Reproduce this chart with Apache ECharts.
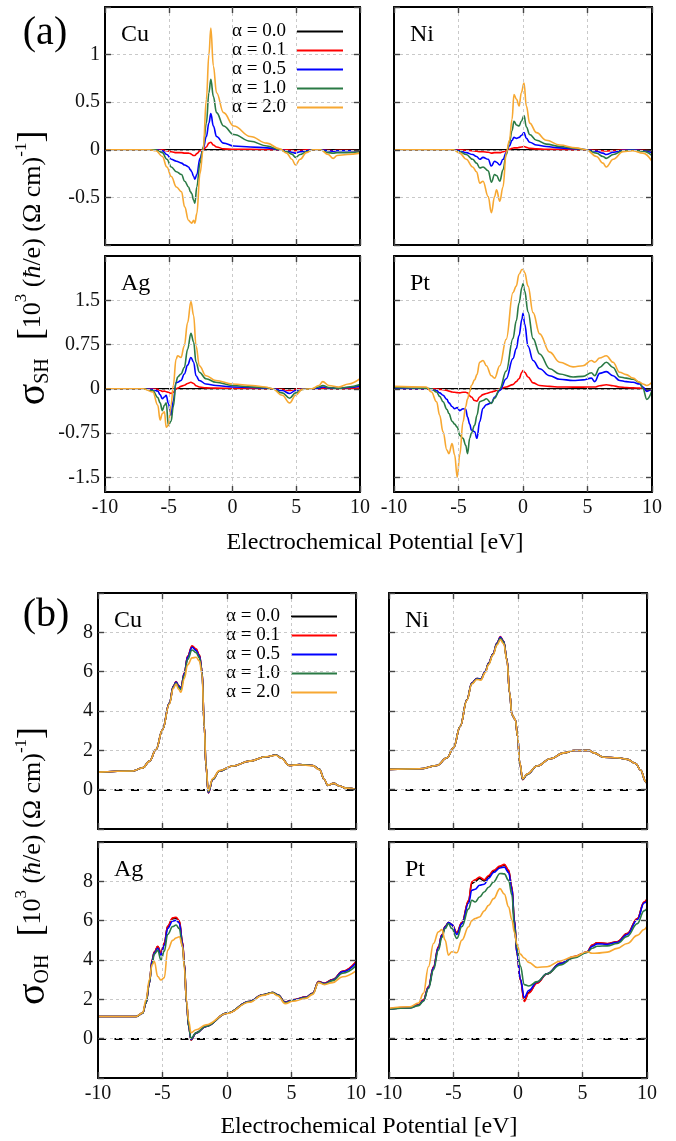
<!DOCTYPE html>
<html>
<head>
<meta charset="utf-8">
<script src="https://cdn.jsdelivr.net/npm/echarts@6/dist/echarts.min.js"></script>
<style>
  html, body { margin: 0; padding: 0; background: #fff; }
  #chart { width: 676px; height: 1141px; }
</style>
</head>
<body>
<div id="chart"></div>
<script>
// ---------- legend / series identity ----------
const alphaLabels = ['α = 0.0', 'α = 0.1', 'α = 0.5', 'α = 1.0', 'α = 2.0'];
const alphaColors = ['#000000', '#ff0000', '#0000ff', '#2a7a45', '#f7a832'];

// ---------- tick labels ----------
const energyTicks = [-10, -5, 0, 5, 10];
const shTopTicks = [-0.5, 0, 0.5, 1];
const shBottomTicks = [-1.5, -0.75, 0, 0.75, 1.5];
const ohTicks = [0, 2, 4, 6, 8];

// ---------- (a) spin Hall conductivity, Cu ----------
const cuSH_E = [-10, -6.5, -6.0, -5.5, -5.15, -4.8, -4.4, -4.0, -3.75, -3.45, -3.3, -3.2, -3.05, -2.95, -2.8, -2.55, -2.3, -2.05, -1.85, -1.7, -1.5, -1.25, -0.7, 0.1, 1.4, 2.7, 3.7, 4.25, 4.65, 4.95, 5.3, 5.8, 6.3, 6.9, 7.5, 7.9, 8.2, 9.0, 10];
const cuSH_a00 = [0, 0, 0, 0, 0, 0, 0, 0, 0, 0, 0, 0, 0, 0, 0, 0, 0, 0, 0, 0, 0, 0, 0, 0, 0, 0, 0, 0, 0, 0, 0, 0, 0, 0, 0, 0, 0, 0, 0];
const cuSH_a01 = [0, 0, 0, 0, -0.01, -0.02, -0.03, -0.03, -0.035, -0.035, -0.04, -0.05, -0.06, -0.06, -0.04, -0.01, 0, 0.03, 0.07, 0.08, 0.05, 0.03, 0.01, 0.005, 0.005, 0, 0, 0, -0.005, -0.01, -0.005, 0, 0, 0, -0.005, -0.01, -0.005, -0.005, -0.01];
const cuSH_a05 = [0, 0, 0, -0.01, -0.05, -0.1, -0.12, -0.14, -0.16, -0.18, -0.21, -0.23, -0.28, -0.31, -0.26, -0.09, 0.01, 0.14, 0.28, 0.38, 0.25, 0.14, 0.07, 0.04, 0.03, 0.02, 0, -0.01, -0.025, -0.035, -0.02, -0.01, 0, 0, -0.01, -0.015, -0.01, -0.01, -0.01];
const cuSH_a10 = [0, 0, 0, -0.03, -0.1, -0.18, -0.23, -0.26, -0.33, -0.39, -0.44, -0.46, -0.53, -0.56, -0.39, -0.14, 0.03, 0.28, 0.6, 0.74, 0.56, 0.39, 0.25, 0.16, 0.09, 0.04, 0, -0.02, -0.045, -0.08, -0.05, -0.02, 0, 0, -0.03, -0.035, -0.03, -0.03, -0.02];
const cuSH_a20 = [0, 0, -0.01, -0.07, -0.18, -0.28, -0.39, -0.44, -0.6, -0.74, -0.76, -0.77, -0.74, -0.77, -0.67, -0.25, 0, 0.53, 1.0, 1.28, 0.88, 0.6, 0.39, 0.25, 0.14, 0.07, 0.01, -0.035, -0.1, -0.16, -0.1, -0.03, 0, 0, -0.05, -0.09, -0.06, -0.05, -0.035];

// ---------- (a) Ni ----------
const niSH_E = [-10, -6.0, -5.4, -4.9, -4.4, -3.9, -3.6, -3.35, -3.1, -2.7, -2.45, -2.2, -2.05, -1.8, -1.55, -1.3, -1.05, -0.85, -0.7, -0.5, -0.3, -0.13, 0.08, 0.26, 0.52, 1.05, 1.8, 2.85, 4.1, 4.9, 5.7, 6.2, 6.45, 7.0, 7.75, 8.5, 9.3, 10];
const niSH_a00 = [0, 0, 0, 0, 0, 0, 0, 0, 0, 0, 0, 0, 0, 0, 0, 0, 0, 0, 0, 0, 0, 0, 0, 0, 0, 0, 0, 0, 0, 0, 0, 0, 0, 0, 0, 0, 0, 0];
const niSH_a01 = [0, 0, 0, 0, -0.005, -0.01, -0.015, -0.02, -0.02, -0.025, -0.035, -0.03, -0.03, -0.03, -0.02, -0.01, 0.005, 0.015, 0.02, 0.02, 0.025, 0.03, 0.035, 0.025, 0.015, 0.01, 0.005, 0.003, 0, 0, -0.005, -0.01, -0.012, -0.008, 0, 0, -0.005, -0.01];
const niSH_a05 = [0, 0, 0, -0.01, -0.03, -0.05, -0.07, -0.1, -0.08, -0.1, -0.17, -0.12, -0.13, -0.16, -0.1, -0.03, 0.04, 0.1, 0.13, 0.12, 0.13, 0.15, 0.18, 0.12, 0.08, 0.05, 0.035, 0.02, 0.01, 0, -0.015, -0.035, -0.05, -0.025, -0.005, 0, -0.01, -0.03];
const niSH_a10 = [0, 0, 0, -0.02, -0.05, -0.1, -0.14, -0.19, -0.18, -0.22, -0.34, -0.26, -0.27, -0.33, -0.21, -0.05, 0.08, 0.2, 0.3, 0.26, 0.25, 0.3, 0.36, 0.24, 0.16, 0.1, 0.06, 0.035, 0.015, 0, -0.035, -0.07, -0.09, -0.05, -0.01, -0.005, -0.015, -0.06];
const niSH_a20 = [0, 0, 0, -0.035, -0.1, -0.18, -0.23, -0.35, -0.33, -0.49, -0.66, -0.49, -0.42, -0.54, -0.39, -0.035, 0.1, 0.32, 0.58, 0.53, 0.46, 0.6, 0.7, 0.46, 0.28, 0.18, 0.1, 0.05, 0.02, 0, -0.07, -0.14, -0.18, -0.1, -0.02, -0.01, -0.035, -0.12];

// ---------- (a) Ag ----------
const agSH_E = [-10, -7.0, -6.25, -5.86, -5.68, -5.5, -5.34, -5.2, -5.03, -4.82, -4.64, -4.43, -4.3, -4.04, -3.78, -3.52, -3.26, -3.05, -2.86, -2.6, -2.08, -1.3, 0, 1.56, 2.6, 3.13, 3.9, 4.48, 4.95, 5.47, 6.25, 6.77, 7.08, 7.55, 8.33, 9.1, 10];
const agSH_a00 = [0, 0, 0, 0, 0, 0, 0, 0, 0, 0, 0, 0, 0, 0, 0, 0, 0, 0, 0, 0, 0, 0, 0, 0, 0, 0, 0, 0, 0, 0, 0, 0, 0, 0, 0, 0, 0];
const agSH_a01 = [0, 0, 0, -0.01, -0.025, -0.045, -0.04, -0.05, -0.06, -0.08, -0.06, 0, 0.01, 0.04, 0.06, 0.09, 0.11, 0.09, 0.05, 0.03, 0.015, 0.01, 0.005, 0.003, 0, 0, -0.01, -0.03, -0.01, 0, 0, 0, 0.01, 0.005, 0, 0.005, 0.01];
const agSH_a05 = [0, 0, -0.01, -0.04, -0.1, -0.17, -0.14, -0.11, -0.25, -0.45, -0.2, 0.1, 0.11, 0.14, 0.25, 0.4, 0.53, 0.45, 0.22, 0.14, 0.08, 0.056, 0.03, 0.02, 0.01, 0, -0.03, -0.08, -0.03, -0.005, 0, 0.01, 0.03, 0.015, 0.005, 0.02, 0.045];
const agSH_a10 = [0, 0, -0.03, -0.15, -0.24, -0.37, -0.28, -0.24, -0.62, -0.55, -0.3, 0.11, 0.2, 0.25, 0.36, 0.67, 0.94, 0.79, 0.45, 0.28, 0.17, 0.11, 0.056, 0.03, 0.017, 0, -0.07, -0.16, -0.07, -0.01, 0, 0.03, 0.056, 0.02, 0.006, 0.03, 0.07];
const agSH_a20 = [0, 0, -0.056, -0.28, -0.53, -0.42, -0.39, -0.65, -0.62, -0.28, 0.06, 0.5, 0.56, 0.53, 0.73, 1.12, 1.48, 1.24, 0.73, 0.39, 0.22, 0.14, 0.08, 0.056, 0.03, 0, -0.11, -0.24, -0.11, -0.01, 0, 0.056, 0.12, 0.056, 0.03, 0.08, 0.17];

// ---------- (a) Pt ----------
const ptSH_E = [-10, -7.5, -7.1, -6.7, -6.46, -6.2, -5.9, -5.74, -5.5, -5.3, -5.1, -4.9, -4.65, -4.44, -4.3, -4.13, -4.0, -3.75, -3.57, -3.36, -3.1, -2.84, -2.45, -2.2, -1.8, -1.3, -0.78, -0.52, -0.31, -0.08, 0.0, 0.13, 0.39, 0.78, 1.29, 2.07, 2.84, 3.88, 4.65, 5.3, 5.56, 5.94, 6.46, 6.98, 7.49, 8.0, 8.53, 9.04, 9.3, 9.6, 10];
const ptSH_a00 = [0, 0, 0, 0, 0, 0, 0, 0, 0, 0, 0, 0, 0, 0, 0, 0, 0, 0, 0, 0, 0, 0, 0, 0, 0, 0, 0, 0, 0, 0, 0, 0, 0, 0, 0, 0, 0, 0, 0, 0, 0, 0, 0, 0, 0, 0, 0, 0, 0, 0, 0];
const ptSH_a01 = [0, 0, 0, -0.005, -0.01, -0.015, -0.03, -0.04, -0.056, -0.06, -0.065, -0.07, -0.06, -0.06, -0.07, -0.12, -0.14, -0.2, -0.21, -0.14, -0.1, -0.08, -0.056, -0.04, 0, 0.03, 0.07, 0.12, 0.17, 0.28, 0.31, 0.28, 0.2, 0.1, 0.056, 0.04, 0.03, 0.028, 0.028, 0.03, 0.03, 0.05, 0.067, 0.05, 0.03, 0.02, 0.015, 0.01, 0, -0.03, -0.01];
const ptSH_a05 = [0, 0, -0.01, -0.03, -0.07, -0.11, -0.18, -0.24, -0.3, -0.34, -0.32, -0.37, -0.34, -0.35, -0.48, -0.6, -0.7, -0.73, -0.84, -0.56, -0.33, -0.27, -0.24, -0.14, -0.03, 0.17, 0.51, 0.68, 0.9, 1.18, 1.28, 1.1, 0.72, 0.48, 0.34, 0.22, 0.16, 0.14, 0.15, 0.18, 0.12, 0.26, 0.29, 0.22, 0.14, 0.12, 0.11, 0.08, 0.03, -0.045, 0];
const ptSH_a10 = [0.02, 0.01, 0, -0.056, -0.13, -0.22, -0.35, -0.42, -0.55, -0.6, -0.65, -0.79, -0.84, -0.96, -1.1, -0.84, -0.75, -0.62, -0.45, -0.22, -0.2, -0.17, -0.25, -0.16, 0, 0.3, 0.85, 1.15, 1.45, 1.72, 1.78, 1.66, 1.3, 0.85, 0.59, 0.34, 0.25, 0.2, 0.21, 0.27, 0.22, 0.36, 0.45, 0.36, 0.2, 0.18, 0.16, 0.11, 0, -0.18, -0.03];
const ptSH_a20 = [0.04, 0.03, -0.056, -0.22, -0.45, -0.73, -1.04, -1.1, -0.93, -1.12, -1.5, -1.12, -0.56, -0.3, -0.17, -0.05, 0.056, 0.15, 0.24, 0.45, 0.48, 0.39, 0.22, 0.18, 0.39, 0.84, 1.63, 1.74, 1.94, 2.02, 2.02, 1.97, 1.74, 1.29, 0.93, 0.62, 0.45, 0.37, 0.39, 0.48, 0.45, 0.52, 0.56, 0.45, 0.28, 0.24, 0.18, 0.11, 0.08, 0.056, 0.11];

// ---------- (b) orbital Hall conductivity, Cu ----------
const cuOH_E = [-10, -7.3, -6.54, -6.0, -5.5, -5.0, -4.47, -4.16, -3.95, -3.75, -3.57, -3.31, -3.05, -2.71, -2.4, -2.14, -1.94, -1.76, -1.63, -1.45, -1.11, -0.59, 0.44, 1.73, 3.02, 3.8, 4.19, 4.83, 5.6, 6.64, 7.16, 7.55, 7.8, 8.27, 8.7, 9.22, 10];
const cuOH_a00 = [0.89, 0.95, 1.11, 1.45, 2.04, 3.05, 4.4, 5.25, 5.49, 5.28, 5.16, 5.92, 6.77, 7.28, 7.12, 6.83, 6.09, 3.22, 1.2, -0.15, 0.52, 0.95, 1.2, 1.45, 1.67, 1.76, 1.62, 1.23, 1.28, 1.23, 1.03, 0.52, 0.22, 0.32, 0.19, 0.08, 0.02];
const cuOH_a01 = [0.89, 0.95, 1.11, 1.45, 2.04, 3.05, 4.4, 5.25, 5.5, 5.29, 5.17, 5.94, 6.79, 7.32, 7.16, 6.86, 6.1, 3.22, 1.2, -0.17, 0.52, 0.95, 1.2, 1.45, 1.67, 1.76, 1.62, 1.23, 1.28, 1.23, 1.03, 0.52, 0.22, 0.32, 0.19, 0.08, 0.02];
const cuOH_a05 = [0.89, 0.95, 1.11, 1.45, 2.04, 3.05, 4.4, 5.24, 5.47, 5.27, 5.15, 5.9, 6.74, 7.24, 7.08, 6.8, 6.07, 3.22, 1.2, -0.15, 0.52, 0.95, 1.2, 1.45, 1.67, 1.76, 1.62, 1.23, 1.28, 1.23, 1.03, 0.52, 0.22, 0.32, 0.19, 0.08, 0.02];
const cuOH_a10 = [0.89, 0.95, 1.11, 1.45, 2.04, 3.05, 4.38, 5.2, 5.42, 5.2, 5.08, 5.82, 6.62, 7.1, 6.97, 6.7, 6.0, 3.2, 1.22, -0.12, 0.53, 0.95, 1.2, 1.45, 1.67, 1.76, 1.62, 1.23, 1.28, 1.23, 1.03, 0.52, 0.22, 0.32, 0.19, 0.08, 0.02];
const cuOH_a20 = [0.89, 0.95, 1.11, 1.45, 2.04, 3.04, 4.35, 5.15, 5.37, 5.1, 4.95, 5.65, 6.35, 6.7, 6.73, 6.55, 5.9, 3.2, 1.25, -0.05, 0.56, 0.97, 1.2, 1.45, 1.67, 1.75, 1.61, 1.23, 1.27, 1.22, 1.02, 0.52, 0.23, 0.32, 0.19, 0.08, 0.02];

// ---------- (b) Ni ----------
const niOH_E = [-10, -7.6, -6.3, -5.5, -5.0, -4.48, -3.96, -3.58, -3.19, -2.88, -2.54, -2.28, -1.94, -1.63, -1.37, -1.11, -0.85, -0.65, -0.47, -0.21, -0.03, 0.13, 0.36, 0.7, 1.48, 2.51, 3.55, 4.33, 5.49, 5.88, 6.66, 7.69, 8.47, 9.12, 9.5, 9.9, 10];
const niOH_a00 = [1.03, 1.06, 1.23, 1.62, 2.13, 3.22, 4.57, 5.42, 5.65, 5.62, 6.01, 6.43, 6.9, 7.44, 7.75, 7.53, 6.6, 4.91, 3.81, 3.56, 2.72, 1.37, 0.52, 0.78, 1.2, 1.57, 1.87, 1.99, 2.0, 1.87, 1.65, 1.62, 1.54, 1.33, 1.0, 0.42, 0.3];
const niOH_a01 = [1.03, 1.06, 1.23, 1.62, 2.13, 3.22, 4.57, 5.42, 5.65, 5.62, 6.01, 6.43, 6.9, 7.45, 7.78, 7.55, 6.6, 4.91, 3.81, 3.56, 2.72, 1.37, 0.51, 0.78, 1.2, 1.57, 1.87, 1.99, 2.0, 1.87, 1.65, 1.62, 1.54, 1.33, 1.0, 0.42, 0.3];
const niOH_a05 = [1.03, 1.06, 1.23, 1.62, 2.13, 3.22, 4.57, 5.42, 5.65, 5.62, 6.01, 6.43, 6.9, 7.44, 7.76, 7.53, 6.6, 4.91, 3.81, 3.56, 2.72, 1.37, 0.52, 0.78, 1.2, 1.57, 1.87, 1.99, 2.0, 1.87, 1.65, 1.62, 1.54, 1.33, 1.0, 0.42, 0.3];
const niOH_a10 = [1.03, 1.06, 1.23, 1.62, 2.13, 3.22, 4.56, 5.4, 5.63, 5.6, 5.98, 6.4, 6.87, 7.4, 7.7, 7.5, 6.58, 4.91, 3.81, 3.56, 2.72, 1.38, 0.53, 0.78, 1.2, 1.57, 1.87, 1.99, 2.0, 1.87, 1.65, 1.62, 1.54, 1.33, 1.0, 0.42, 0.3];
const niOH_a20 = [1.03, 1.06, 1.23, 1.62, 2.13, 3.21, 4.54, 5.37, 5.6, 5.57, 5.95, 6.36, 6.85, 7.35, 7.62, 7.42, 6.55, 4.92, 3.82, 3.56, 2.72, 1.4, 0.56, 0.8, 1.2, 1.57, 1.87, 1.99, 2.0, 1.87, 1.65, 1.62, 1.54, 1.33, 1.0, 0.42, 0.3];

// ---------- (b) Ag ----------
const agOH_E = [-10, -7.05, -6.54, -6.28, -6.02, -5.81, -5.63, -5.37, -5.12, -4.86, -4.6, -4.21, -3.95, -3.7, -3.44, -3.31, -3.13, -2.97, -2.79, -2.4, -1.63, 0, 1.73, 2.76, 3.54, 3.93, 4.52, 5.09, 6.12, 6.64, 7.1, 7.55, 8.19, 8.97, 10];
const agOH_a00 = [1.13, 1.13, 1.3, 1.8, 2.82, 4.0, 4.4, 4.68, 4.35, 4.85, 5.7, 6.1, 6.13, 5.97, 4.88, 3.85, 1.8, 0.62, -0.06, 0.29, 0.62, 1.3, 1.89, 2.23, 2.35, 2.23, 1.86, 1.97, 2.11, 2.31, 2.9, 2.82, 3.0, 3.42, 3.88];
const agOH_a01 = [1.13, 1.13, 1.3, 1.8, 2.82, 4.0, 4.4, 4.7, 4.36, 4.86, 5.72, 6.14, 6.17, 6.0, 4.9, 3.85, 1.8, 0.62, -0.07, 0.29, 0.62, 1.3, 1.89, 2.23, 2.35, 2.23, 1.86, 1.97, 2.11, 2.31, 2.9, 2.82, 3.0, 3.43, 3.92];
const agOH_a05 = [1.13, 1.13, 1.3, 1.8, 2.8, 3.95, 4.35, 4.6, 4.25, 4.75, 5.6, 5.98, 6.02, 5.88, 4.82, 3.8, 1.8, 0.62, -0.04, 0.29, 0.62, 1.3, 1.89, 2.23, 2.35, 2.23, 1.85, 1.96, 2.1, 2.3, 2.88, 2.8, 2.98, 3.4, 3.85];
const agOH_a10 = [1.13, 1.13, 1.3, 1.82, 2.85, 3.8, 4.3, 4.5, 4.0, 4.45, 5.3, 5.7, 5.78, 5.6, 4.65, 3.7, 1.8, 0.63, 0.0, 0.3, 0.63, 1.3, 1.88, 2.22, 2.34, 2.22, 1.83, 1.94, 2.08, 2.28, 2.87, 2.78, 2.95, 3.33, 3.7];
const agOH_a20 = [1.13, 1.13, 1.32, 1.97, 3.0, 3.75, 3.92, 3.16, 2.98, 3.1, 4.5, 5.0, 5.12, 5.18, 4.7, 3.6, 1.9, 0.9, 0.3, 0.45, 0.7, 1.28, 1.85, 2.2, 2.32, 2.18, 1.78, 1.9, 2.05, 2.25, 2.85, 2.75, 2.85, 3.15, 3.45];

// ---------- (b) Pt ----------
const ptOH_E = [-10, -8.37, -7.72, -7.33, -6.94, -6.55, -6.17, -5.9, -5.65, -5.39, -5.13, -4.74, -4.35, -3.83, -3.58, -3.32, -2.98, -2.62, -2.28, -1.89, -1.4, -1.06, -0.73, -0.47, -0.28, -0.08, 0.18, 0.49, 0.83, 1.48, 2.25, 3.29, 4.33, 5.36, 5.75, 6.14, 6.92, 7.69, 8.47, 9.25, 9.77, 10];
const ptOH_a00 = [1.51, 1.58, 1.71, 1.96, 2.63, 3.64, 4.66, 5.28, 5.7, 5.91, 5.8, 5.38, 5.9, 7.0, 7.9, 8.0, 8.15, 8.02, 8.25, 8.52, 8.75, 8.82, 8.54, 7.68, 6.02, 4.34, 3.0, 1.95, 2.35, 2.84, 3.3, 3.83, 4.16, 4.41, 4.75, 4.87, 4.83, 4.92, 5.34, 6.1, 6.93, 7.08];
const ptOH_a01 = [1.52, 1.59, 1.72, 1.97, 2.65, 3.66, 4.68, 5.3, 5.7, 5.91, 5.8, 5.4, 5.9, 7.04, 7.97, 8.08, 8.22, 8.08, 8.3, 8.56, 8.78, 8.86, 8.58, 7.71, 6.03, 4.34, 2.99, 1.89, 2.31, 2.82, 3.29, 3.83, 4.17, 4.42, 4.76, 4.88, 4.84, 4.93, 5.35, 6.11, 6.95, 7.1];
const ptOH_a05 = [1.5, 1.57, 1.7, 1.93, 2.6, 3.6, 4.62, 5.25, 5.68, 5.9, 5.8, 5.3, 5.85, 6.9, 7.55, 7.6, 7.8, 7.85, 8.15, 8.45, 8.68, 8.72, 8.45, 7.6, 6.0, 4.35, 3.05, 2.1, 2.45, 2.88, 3.3, 3.82, 4.15, 4.4, 4.7, 4.82, 4.8, 4.9, 5.3, 6.05, 6.9, 7.0];
const ptOH_a10 = [1.5, 1.56, 1.68, 1.9, 2.55, 3.5, 4.5, 5.15, 5.6, 5.85, 5.6, 5.1, 5.7, 6.6, 7.04, 6.95, 7.2, 7.46, 7.7, 7.97, 8.4, 8.38, 8.05, 7.3, 5.69, 4.6, 3.7, 2.75, 2.68, 2.9, 3.3, 3.75, 4.1, 4.38, 4.6, 4.7, 4.72, 4.84, 5.2, 5.85, 6.5, 6.62];
const ptOH_a20 = [1.55, 1.62, 1.81, 2.31, 3.66, 4.84, 5.43, 5.55, 5.01, 4.25, 4.42, 4.37, 5.01, 5.69, 6.0, 6.11, 6.19, 6.5, 6.78, 7.12, 7.63, 7.35, 6.7, 6.03, 5.4, 4.8, 4.3, 4.1, 3.88, 3.62, 3.66, 3.95, 4.17, 4.42, 4.34, 4.35, 4.4, 4.59, 4.84, 5.25, 5.55, 5.72];

// ---------- layout of the eight frames ----------
const FONT = '"Liberation Serif", "Times New Roman", serif';

const panels = [
  { name: 'Cu', box: [105, 7, 255, 238],   E: cuSH_E, Y: [cuSH_a00, cuSH_a01, cuSH_a05, cuSH_a10, cuSH_a20], y: { min: -1, max: 1.5, interval: 0.5, labels: shTopTicks }, xLab: false, yLab: true, dashedZero: false },
  { name: 'Ni', box: [394, 7, 258, 238],   E: niSH_E, Y: [niSH_a00, niSH_a01, niSH_a05, niSH_a10, niSH_a20], y: { min: -1, max: 1.5, interval: 0.5, labels: shTopTicks }, xLab: false, yLab: false, dashedZero: false },
  { name: 'Ag', box: [105, 256, 255, 236], E: agSH_E, Y: [agSH_a00, agSH_a01, agSH_a05, agSH_a10, agSH_a20], y: { min: -1.75, max: 2.25, custom: shBottomTicks, labels: shBottomTicks }, xLab: true, yLab: true, dashedZero: false },
  { name: 'Pt', box: [394, 256, 258, 236], E: ptSH_E, Y: [ptSH_a00, ptSH_a01, ptSH_a05, ptSH_a10, ptSH_a20], y: { min: -1.75, max: 2.25, custom: shBottomTicks, labels: shBottomTicks }, xLab: true, yLab: false, dashedZero: false },
  { name: 'Cu', box: [98, 593, 258, 236],  E: cuOH_E, Y: [cuOH_a00, cuOH_a01, cuOH_a05, cuOH_a10, cuOH_a20], y: { min: -2, max: 10, interval: 2, labels: ohTicks }, xLab: false, yLab: true, dashedZero: true },
  { name: 'Ni', box: [389, 593, 258, 236], E: niOH_E, Y: [niOH_a00, niOH_a01, niOH_a05, niOH_a10, niOH_a20], y: { min: -2, max: 10, interval: 2, labels: ohTicks }, xLab: false, yLab: false, dashedZero: true },
  { name: 'Ag', box: [98, 842, 258, 236],  E: agOH_E, Y: [agOH_a00, agOH_a01, agOH_a05, agOH_a10, agOH_a20], y: { min: -2, max: 10, interval: 2, labels: ohTicks }, xLab: true, yLab: true, dashedZero: true },
  { name: 'Pt', box: [389, 842, 258, 236], E: ptOH_E, Y: [ptOH_a00, ptOH_a01, ptOH_a05, ptOH_a10, ptOH_a20], y: { min: -2, max: 10, interval: 2, labels: ohTicks }, xLab: true, yLab: false, dashedZero: true }
];

const frameLine = { show: true, onZero: false, lineStyle: { color: '#000', width: 2 } };
const tickStyle = { show: true, inside: true, length: 6, lineStyle: { color: '#444', width: 1.4 } };
const gridLineStyle = { show: true, lineStyle: { color: '#c9c9c9', width: 1, type: [3, 3] } };
const labelBase = { fontFamily: FONT, fontSize: 20, color: '#111' };

const grids = [], xAxes = [], yAxes = [], series = [], graphics = [];

panels.forEach((p, i) => {
  const [l, t, w, h] = p.box;
  grids.push({ left: l, top: t, width: w, height: h, show: false, containLabel: false, outerBoundsMode: 'none' });

  // bottom and mirrored top energy axes; their axis lines form the frame
  const xCommon = { gridIndex: i, type: 'value', min: -10, max: 10, interval: 5, axisLine: frameLine, axisTick: tickStyle, z: 10 };
  xAxes.push(Object.assign({}, xCommon, {
    position: 'bottom',
    splitLine: gridLineStyle,
    axisLabel: Object.assign({ show: p.xLab, margin: 6, formatter: v => energyTicks.includes(v) ? String(v) : '' }, labelBase)
  }));
  xAxes.push(Object.assign({}, xCommon, { position: 'top', splitLine: { show: false }, axisLabel: { show: false } }));

  // left and mirrored right conductivity axes
  const yCommon = { gridIndex: i, type: 'value', min: p.y.min, max: p.y.max, axisLine: frameLine, z: 10 };
  if (p.y.custom) {
    yCommon.axisTick = Object.assign({ customValues: p.y.custom }, tickStyle);
  } else {
    yCommon.interval = p.y.interval;
    yCommon.axisTick = tickStyle;
  }
  const yLabel = Object.assign({ show: p.yLab, margin: 5, formatter: v => p.y.labels.includes(v) ? String(v) : '' }, labelBase);
  if (p.y.custom) yLabel.customValues = p.y.custom;
  yAxes.push(Object.assign({}, yCommon, { position: 'left', splitLine: gridLineStyle, axisLabel: yLabel }));
  yAxes.push(Object.assign({}, yCommon, { position: 'right', splitLine: { show: false }, axisLabel: { show: false } }));

  p.Y.forEach((vals, k) => {
    const s = {
      type: 'line',
      name: alphaLabels[k],
      xAxisIndex: 2 * i,
      yAxisIndex: 2 * i,
      data: p.E.map((e, j) => [e, vals[j]]),
      showSymbol: false,
      symbol: 'none',
      smooth: 0.4,
      smoothMonotone: 'x',
      color: alphaColors[k],
      itemStyle: { color: alphaColors[k] },
      lineStyle: { color: alphaColors[k], width: 1.6 },
      z: 3 + k,
      silent: true
    };
    if (k === 0 && p.dashedZero) {
      // dashed reference line at zero conductivity
      s.markLine = {
        silent: true, symbol: 'none', label: { show: false }, animation: false,
        lineStyle: { color: '#000', width: 2, type: [8, 8.5] },
        data: [{ yAxis: 0 }]
      };
    }
    series.push(s);
  });

  // element name in the upper-left corner of each frame
  graphics.push({
    type: 'text', x: l + 16, y: t + 28,
    style: { text: p.name, fontFamily: FONT, fontSize: 24, fill: '#000', align: 'left', verticalAlign: 'middle' }
  });
});

// panel tags
graphics.push({ type: 'text', x: 45, y: 33, style: { text: '(a)', fontFamily: FONT, fontSize: 40, fill: '#000', align: 'center', verticalAlign: 'middle' } });
graphics.push({ type: 'text', x: 46, y: 615, style: { text: '(b)', fontFamily: FONT, fontSize: 40, fill: '#000', align: 'center', verticalAlign: 'middle' } });

// shared x titles
graphics.push({ type: 'text', x: 375, y: 543, style: { text: 'Electrochemical Potential [eV]', fontFamily: FONT, fontSize: 24, fill: '#000', align: 'center', verticalAlign: 'middle' } });
graphics.push({ type: 'text', x: 369, y: 1127, style: { text: 'Electrochemical Potential [eV]', fontFamily: FONT, fontSize: 24, fill: '#000', align: 'center', verticalAlign: 'middle' } });

// shared y titles (rotated, rich text for sub/superscripts)
function yTitle(sub, cy) {
  return {
    type: 'text', x: 33, y: cy, rotation: Math.PI / 2,
    style: {
      text: '{s|σ}{sub|' + sub + '}{b|  [}{t|10}{sup|3}{t| (}{it|ħ}{t|/e) (Ω cm)}{sup|-1}{b|]}',
      align: 'center', verticalAlign: 'middle',
      rich: {
        s:   { fontFamily: FONT, fontSize: 40, lineHeight: 40, fill: '#000' },
        sub: { fontFamily: FONT, fontSize: 20, lineHeight: 20, fill: '#000', verticalAlign: 'bottom' },
        b:   { fontFamily: FONT, fontSize: 36, lineHeight: 40, fill: '#000' },
        t:   { fontFamily: FONT, fontSize: 26, lineHeight: 30, fill: '#000' },
        it:  { fontFamily: FONT, fontSize: 26, lineHeight: 30, fontStyle: 'italic', fill: '#000' },
        sup: { fontFamily: FONT, fontSize: 17, lineHeight: 17, fill: '#000', verticalAlign: 'top' }
      }
    }
  };
}
graphics.push(yTitle('SH', 268));
graphics.push(yTitle('OH', 866));

const legendBase = {
  data: alphaLabels, orient: 'vertical', align: 'right', icon: 'rect',
  itemWidth: 46, itemHeight: 2, itemGap: 0, selectedMode: false, padding: 0,
  textStyle: { fontFamily: FONT, fontSize: 19, lineHeight: 18.3, color: '#000', padding: [0, 6, 0, 0] }
};

const chart = echarts.init(document.getElementById('chart'), null, { renderer: 'canvas' });
chart.setOption({
  animation: false,
  backgroundColor: '#fff',
  textStyle: { fontFamily: FONT },
  grid: grids,
  xAxis: xAxes,
  yAxis: yAxes,
  legend: [
    Object.assign({ right: 333, top: 22 }, legendBase),
    Object.assign({ right: 339, top: 607 }, legendBase)
  ],
  graphic: graphics,
  series: series
});
</script>
</body>
</html>
